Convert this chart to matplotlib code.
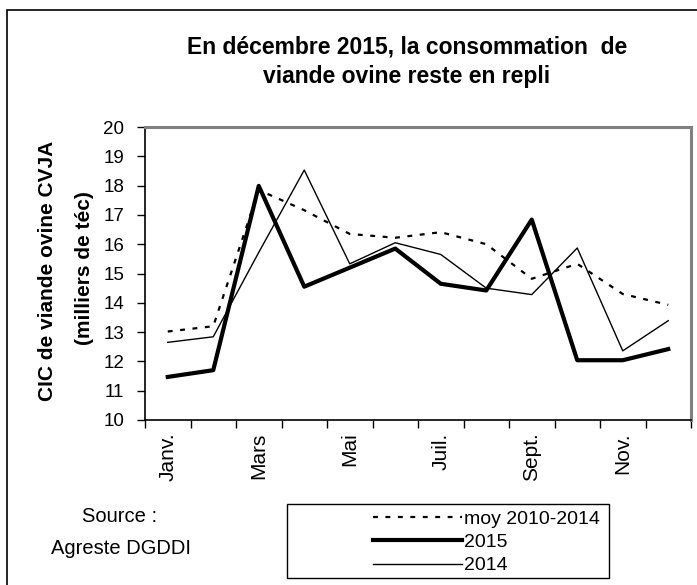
import matplotlib
matplotlib.use("Agg")
import matplotlib.pyplot as plt
from matplotlib.patches import Rectangle

plt.rcParams['font.family'] = ['Liberation Sans', 'DejaVu Sans']

# données
mois = ['Janv.', 'Fév.', 'Mars', 'Avr.', 'Mai', 'Juin',
        'Juil.', 'Août', 'Sept.', 'Oct.', 'Nov.', 'Déc.']
etiquettes = ['Janv.', '', 'Mars', '', 'Mai', '', 'Juil.', '', 'Sept.', '', 'Nov.', '']
moy_2010_2014 = [13.02, 13.2, 17.85, 17.16, 16.35, 16.22, 16.41, 16.0, 14.82, 15.33, 14.3, 13.93]
conso_2015 = [11.47, 11.70, 17.99, 14.55, 15.2, 15.85, 14.65, 14.42, 16.84, 12.04, 12.04, 12.42]
conso_2014 = [12.65, 12.84, 15.72, 18.53, 15.33, 16.05, 15.65, 14.5, 14.28, 15.87, 12.36, 13.39]

W, H = 697, 585
fig = plt.figure(figsize=(W / 100, H / 100), dpi=100)

# cadre extérieur
fig.patches.append(Rectangle((7 / W, -0.01), 1.0, 1 - 10 / H + 0.01,
                             transform=fig.transFigure, fill=False,
                             edgecolor='black', linewidth=1.2))

ax = fig.add_axes([145 / W, 1 - 420 / H, 546 / W, 293 / H])
x = list(range(len(mois)))

ax.plot(x, moy_2010_2014, color='black', linewidth=1.6, linestyle=(0, (2.2, 3.4)),
        label='moy 2010-2014')
ax.plot(x, conso_2015, color='black', linewidth=3.0, label='2015')
ax.plot(x, conso_2014, color='black', linewidth=1.0, label='2014')

ax.set_xlim(-0.5, 11.5)
ax.set_ylim(10, 20)
ax.set_yticks(range(10, 21))
ax.tick_params(axis='y', labelsize=13.5, length=6, width=1, direction='out', pad=9)

# graduations entre les catégories, étiquettes au centre
ax.set_xticks([i - 0.5 for i in range(13)])
ax.set_xticklabels([])
ax.set_xticks(x, minor=True)
ax.set_xticklabels(etiquettes, minor=True, rotation=90, fontsize=15)
ax.tick_params(axis='x', which='major', length=6, width=1, direction='out')
ax.tick_params(axis='x', which='minor', length=0, pad=9)

for s in ['top', 'right']:
    ax.spines[s].set_color('#808080')
    ax.spines[s].set_linewidth(2.2)
for s in ['left', 'bottom']:
    ax.spines[s].set_color('black')
    ax.spines[s].set_linewidth(1.2)

fig.text(407 / W, 1 - 47 / H, 'En décembre 2015, la consommation  de',
         ha='center', va='center', fontsize=16.5, fontweight='bold')
fig.text(407 / W, 1 - 77 / H, 'viande ovine reste en repli',
         ha='center', va='center', fontsize=16.5, fontweight='bold')

fig.text(48 / W, 1 - 271 / H, 'CIC de viande ovine CVJA', rotation=90,
         ha='center', va='center', fontsize=15, fontweight='bold')
fig.text(85 / W, 1 - 268 / H, '(milliers de téc)', rotation=90,
         ha='center', va='center', fontsize=15, fontweight='bold')

fig.text(120 / W, 1 - 517 / H, 'Source :', ha='center', va='center', fontsize=14.5)
fig.text(121 / W, 1 - 548 / H, 'Agreste DGDDI', ha='center', va='center', fontsize=14.5)

# cadre de la légende
fig.patches.append(Rectangle((287 / W, 1 - 578 / H), 322 / W, 74 / H,
                             transform=fig.transFigure, fill=False,
                             edgecolor='black', linewidth=1.0))
leg = fig.legend(loc='upper left', bbox_to_anchor=(373 / W, 1 - 510 / H),
                 frameon=False, fontsize=14, handlelength=4.6, handletextpad=0.1,
                 labelspacing=0.3, borderpad=0, borderaxespad=0)

fig.savefig('out.png', dpi=100)
